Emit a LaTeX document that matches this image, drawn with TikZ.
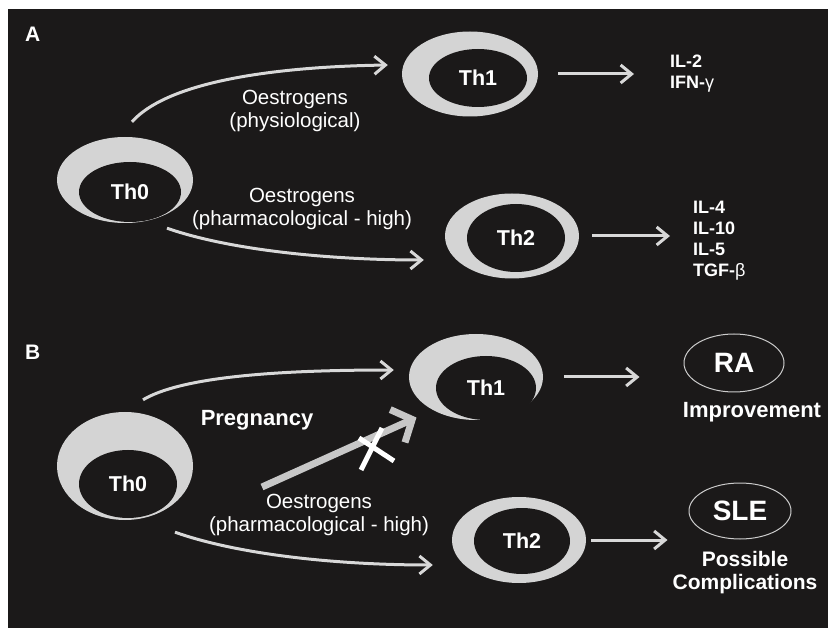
\documentclass[tikz,border=0pt]{standalone}
\usepackage{fontspec}
\setmainfont{Liberation Sans}
\usetikzlibrary{arrows.meta,calc,shapes.geometric}
\definecolor{bgdark}{HTML}{1B1919}
\definecolor{ringgray}{HTML}{D4D4D4}
\definecolor{arrgray}{HTML}{D8D8D8}

\begin{document}
\begin{tikzpicture}[x=1pt, y=-1pt,
  cellring/.style={ellipse, fill=ringgray, inner sep=0pt},
  cellcore/.style={ellipse, fill=bgdark, inner sep=0pt, text=white,
    font=\bfseries\fontsize{21.5}{21.5}\selectfont},
  disease/.style={ellipse, draw=white!80!black, line width=1pt, inner sep=0pt,
    text=white, font=\bfseries\fontsize{28}{28}\selectfont},
  lbl/.style={text=white, align=center, inner sep=0pt,
    font=\fontsize{20.5}{23}\selectfont},
  cyto/.style={text=white, align=left, inner sep=0pt,
    font=\bfseries\fontsize{18}{21}\selectfont},
  outcome/.style={text=white, align=center, inner sep=0pt,
    font=\bfseries\fontsize{21}{23}\selectfont},
  panel/.style={text=white, inner sep=0pt, font=\bfseries\fontsize{21}{21}\selectfont},
  arr/.style={draw=arrgray, line width=3pt, -{Straight Barb[length=11pt,width=18pt]}},
  blkarr/.style={draw=arrgray!92!black, line width=7pt, -{Straight Barb[length=16pt,width=36pt]}},
  xmark/.style={draw=white, line width=5pt}
]
\fill[white] (0,0) rectangle (828,628);
\fill[bgdark] (8,9) rectangle (828,628);
\useasboundingbox (0,0) rectangle (828,628);

\node[panel, anchor=base west] (pA) at (25,42) {A};
\node[panel, anchor=base west] (pB) at (25,360) {B};

\node[cellring, minimum width=136pt, minimum height=86pt] (th0A) at (125,180) {};
\node[cellcore, minimum width=102pt, minimum height=60pt] (th0Acore) at (130,192) {Th0};
\node[cellring, minimum width=136pt, minimum height=85pt] (th1A) at (470,74) {};
\node[cellcore, minimum width=98pt, minimum height=58pt] (th1Acore) at (478,78) {Th1};
\node[cellring, minimum width=134pt, minimum height=85pt] (th2A) at (512,236) {};
\node[cellcore, minimum width=98pt, minimum height=68pt] (th2Acore) at (516,238) {Th2};

\node[lbl] (oesA1) at (295,111) {Oestrogens\\(physiological)};
\node[lbl] (oesA2) at (302,209) {Oestrogens\\(pharmacological - high)};
\node[cyto, anchor=north west] (cytA1) at (670,55) {IL-2\\IFN-{\mdseries γ}};
\node[cyto, anchor=north west] (cytA2) at (693,201) {IL-4\\IL-10\\IL-5\\TGF-{\mdseries β}};

\draw[arr] ($(th0A.north)+(7,-15)$) .. controls +(33,-37) and +(-128,2) .. ($(th1A.west)+(-14,-9)$);
\draw[arr] ($(th0A.south)+(42,5)$) .. controls +(63,22) and +(-94,0) .. ($(th2A.west)+(-21,24)$);
\draw[arr] ($(th1A.east)+(20,0)$) -- ($(th1A.east -| cytA1.west)+(-36,0)$);
\draw[arr] ($(th2A.east)+(13,0)$) -- ($(th2A.east -| cytA2.west)+(-23,0)$);

\node[cellring, minimum width=136pt, minimum height=108pt] (th0B) at (125,466) {};
\node[cellcore, minimum width=98pt, minimum height=68pt] (th0Bcore) at (128,484) {Th0};
\node[cellring, minimum width=134pt, minimum height=86pt] (th1B) at (476,377) {};
\node[cellcore, minimum width=100pt, minimum height=64pt] (th1Bcore) at (486,388) {Th1};
\node[cellring, minimum width=134pt, minimum height=86pt] (th2B) at (519,540) {};
\node[cellcore, minimum width=96pt, minimum height=66pt] (th2Bcore) at (522,541) {Th2};

\node[disease, minimum width=100pt, minimum height=58pt] (ra) at (734,363) {RA};
\node[disease, minimum width=102pt, minimum height=56pt] (sle) at (740,511) {SLE};
\node[outcome, anchor=base, font=\bfseries\fontsize{22}{23}\selectfont] (imp) at (752,418) {Improvement};
\node[outcome] (comp) at (745,573) {Possible\\Complications};

\node[outcome, anchor=base, font=\bfseries\fontsize{22}{23}\selectfont] (preg) at (257,425) {Pregnancy};
\node[lbl] (oesB) at (319,515) {Oestrogens\\(pharmacological - high)};

\draw[arr] ($(th0B.north)+(18,-12)$) .. controls +(37,-22) and +(-124,0) .. ($(th1B.west)+(-15,-7)$);
\draw[arr] ($(th0B.south)+(50,12)$) .. controls +(65,23) and +(-93,0) .. ($(th2B.west)+(-19,25)$);
\draw[arr] ($(th1B.east)+(21,0)$) -- ($(th1B.east -| ra.west)+(-44,0)$);
\draw[arr] ($(th2B.east)+(5,0)$) -- ($(th2B.east -| sle.west)+(-21,0)$);

\coordinate (blkstart) at (262,487);
\draw[blkarr] (blkstart) -- ($(th1B.south west)+(-12,10)$);
\draw[xmark] (361,470) -- (382,428);
\draw[xmark] (359,438) -- (394,461);
\end{tikzpicture}
\end{document}
